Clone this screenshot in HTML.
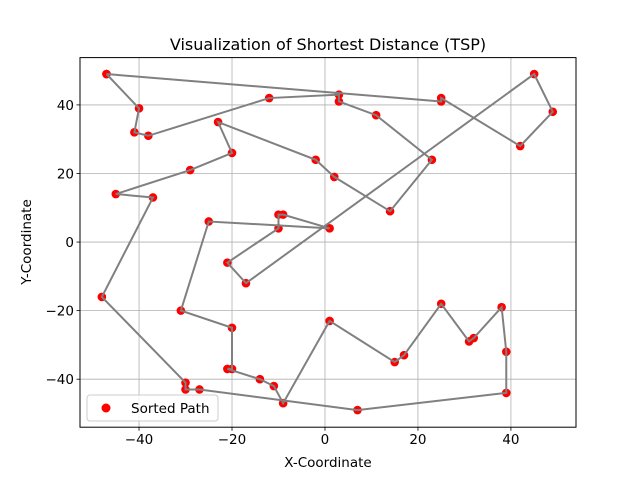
<!DOCTYPE html>
<html><head><meta charset="utf-8"><style>
body{margin:0;background:#fff;}
svg text{font-family:"DejaVu Sans","Liberation Sans",sans-serif;fill:#000;}
</style></head><body>
<svg id="chart" width="640" height="480" xmlns="http://www.w3.org/2000/svg">
<rect width="640" height="480" fill="#fff"/>
<g id="grid"></g>
<g id="paths"></g>
<rect x="80" y="57.6" width="496" height="369.6" fill="none" stroke="#000" stroke-width="1"/>
<g id="ticks"></g>
<text x="328" y="50" font-size="16" text-anchor="middle">Visualization of Shortest Distance (TSP)</text>
<text x="328" y="467" font-size="13.5" text-anchor="middle">X-Coordinate</text>
<text x="31" y="242" font-size="13.5" text-anchor="middle" transform="rotate(-90 31 242)">Y-Coordinate</text>
<g>
<rect x="87" y="395" width="131" height="26" rx="3" fill="#fff" fill-opacity="0.8" stroke="#ccc" stroke-width="1"/>
<circle cx="106" cy="408" r="4.5" fill="#f00"/>
<text x="131" y="413" font-size="13.5">Sorted Path</text>
</g>
</svg>
<script>
const pathX=[-47,25,25,42,49,45,-17,-21,-10,-10,-9,1,-25,-31,-20,-20,-21,-14,-11,-9,1,15,17,25,31,32,38,39,39,7,-27,-30,-30,-48,-37,-45,-29,-20,-23,-2,2,14,23,11,3,3,-12,-38,-41,-40,-47];
const pathY=[49,41,42,28,38,49,-12,-6,4,8,8,4,6,-20,-25,-37,-37,-40,-42,-47,-23,-35,-33,-18,-29,-28,-19,-32,-44,-49,-43,-43,-41,-16,13,14,21,26,35,24,19,9,24,37,41,43,42,31,32,39,49];
const xTicks=[-40,-20,0,20,40];
const yTicks=[-40,-20,0,20,40];
const NS="http://www.w3.org/2000/svg";
const L=80,R=576,T=57.6,B=427.2,xmin=-52.7,xmax=54,ymin=-54,ymax=53.8;
function sx(v){return L+(v-xmin)/(xmax-xmin)*(R-L);}
function sy(v){return B-(v-ymin)/(ymax-ymin)*(B-T);}
function mk(tag,a,parent){const e=document.createElementNS(NS,tag);for(const k in a)e.setAttribute(k,a[k]);parent.appendChild(e);return e;}
const grid=document.getElementById('grid'),ticks=document.getElementById('ticks'),paths=document.getElementById('paths');
xTicks.forEach(t=>{const x=sx(t);
 const g=mk('line',{x1:x,x2:x,y1:T,y2:B,stroke:'#b0b0b0','stroke-width':0.8},grid);
 
 
 const k=mk('line',{x1:x,x2:x,y1:B,y2:B+3.5,stroke:'#000','stroke-width':0.8},ticks);
 
 
 const tx=mk('text',{x:x,y:B+17,'font-size':13.5,'text-anchor':'middle'},ticks);tx.textContent=(t<0?'\u2212'+(-t):t);
 
 
});
yTicks.forEach(t=>{const y=sy(t);
 const g=mk('line',{x1:L,x2:R,y1:y,y2:y,stroke:'#b0b0b0','stroke-width':0.8},grid);
 
 
 const k=mk('line',{x1:L-3.5,x2:L,y1:y,y2:y,stroke:'#000','stroke-width':0.8},ticks);
 
 
 const tx=mk('text',{x:L-6,y:y+5,'font-size':13.5,'text-anchor':'end'},ticks);tx.textContent=(t<0?'\u2212'+(-t):t);
 
 
});
pathX.forEach((v,i)=>{
 const c=mk('circle',{cx:sx(v),cy:sy(pathY[i]),r:4.3,fill:'#f00'},paths);
 
 
});
const pl=mk('polyline',{points:pathX.map((v,i)=>sx(v)+','+sy(pathY[i])).join(' '),fill:'none',stroke:'#808080','stroke-width':2},paths);


</script>
</body></html>
